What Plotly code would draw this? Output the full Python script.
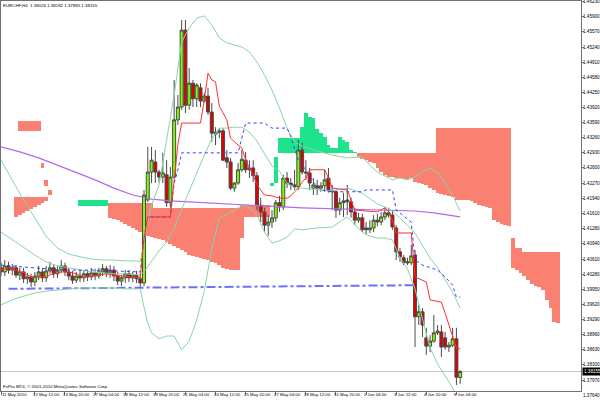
import plotly.graph_objects as go

# ---------------- data (EURCHF H4, bar 0 = 11 May 2010 00:00) ----------------
opens = [1.4042,1.4033,1.4046,1.4037,1.4042,1.4026,1.4033,1.4018,1.4022,1.4011,
         1.4024,1.4033,1.4020,1.4035,1.4042,1.4029,1.4037,1.4046,1.4033,1.4024,
         1.4015,1.4024,1.4020,1.4029,1.4022,1.4031,1.4024,1.4033,1.4040,1.4031,
         1.4037,1.4024,1.4013,1.4020,1.4029,1.4020,1.4026,1.4018,1.4009,1.4190,
         1.4251,1.4273,1.4251,1.4240,1.4245,1.4184,1.4240,1.4365,1.4393,1.4561,
         1.4397,1.4445,1.4411,1.4435,1.4406,1.4417,1.4382,1.4334,1.4338,1.4341,
         1.4282,1.4273,1.4216,1.4227,1.4256,1.4277,1.4256,1.4260,1.4243,1.4179,
         1.4164,1.4135,1.4142,1.4151,1.4184,1.4175,1.4238,1.4227,1.4223,1.4219,
         1.4299,1.4251,1.4249,1.4216,1.4221,1.4216,1.4221,1.4238,1.4210,1.4208,
         1.4168,1.4184,1.4190,1.4186,1.4164,1.4146,1.4151,1.4129,1.4125,1.4129,
         1.4146,1.4142,1.4153,1.4162,1.4157,1.4129,1.4077,1.4064,1.4055,1.4053,
         1.4070,1.3935,1.3946,1.3889,1.3871,1.3882,1.3900,1.3902,1.3889,1.3869,
         1.3873,1.3887,1.38026]
highs = [1.4055,1.4059,1.4055,1.4050,1.4048,1.4042,1.4042,1.4031,1.4029,1.4033,
         1.4046,1.4042,1.4046,1.4055,1.4050,1.4046,1.4059,1.4053,1.4042,1.4035,
         1.4033,1.4037,1.4037,1.4037,1.4042,1.4040,1.4042,1.4050,1.4046,1.4048,
         1.4046,1.4033,1.4026,1.4037,1.4037,1.4033,1.4035,1.4029,1.4212,1.4306,
         1.4306,1.4299,1.4256,1.4293,1.4277,1.4262,1.4452,1.4419,1.4583,1.4583,
         1.4478,1.4452,1.4445,1.4445,1.4424,1.4435,1.4402,1.4349,1.4347,1.4347,
         1.4299,1.4282,1.4229,1.4271,1.4299,1.4295,1.4277,1.4277,1.4251,1.4195,
         1.4173,1.4157,1.4168,1.4190,1.4199,1.4245,1.4251,1.4238,1.4256,1.4321,
         1.4315,1.4277,1.4260,1.4238,1.4234,1.4229,1.4256,1.4260,1.4223,1.4212,
         1.4195,1.4206,1.4223,1.4195,1.4173,1.4162,1.4160,1.4142,1.4146,1.4157,
         1.4160,1.4164,1.4173,1.4173,1.4168,1.4135,1.4085,1.4070,1.4064,1.4092,
         1.4081,1.3961,1.3954,1.3911,1.3895,1.3939,1.3917,1.3917,1.3902,1.3880,
         1.3911,1.3911,1.38182]
lows = [1.4024,1.4024,1.4029,1.4026,1.4020,1.4015,1.4009,1.4007,1.4000,1.4002,
        1.4015,1.4011,1.4011,1.4029,1.4020,1.4020,1.4031,1.4024,1.4015,1.4007,
        1.4009,1.4011,1.4011,1.4013,1.4015,1.4015,1.4018,1.4024,1.4022,1.4020,
        1.4013,1.4004,1.4002,1.4009,1.4011,1.4011,1.4009,1.4000,1.4002,1.4186,
        1.4227,1.4227,1.4227,1.4227,1.4175,1.4173,1.4238,1.4354,1.4387,1.4380,
        1.4387,1.4393,1.4393,1.4393,1.4402,1.4376,1.4317,1.4310,1.4325,1.4275,
        1.4260,1.4212,1.4208,1.4223,1.4251,1.4249,1.4238,1.4229,1.4168,1.4142,
        1.4120,1.4112,1.4129,1.4142,1.4164,1.4168,1.4216,1.4212,1.4212,1.4212,
        1.4245,1.4234,1.4212,1.4201,1.4201,1.4208,1.4208,1.4206,1.4168,1.4151,
        1.4157,1.4153,1.4157,1.4151,1.4135,1.4140,1.4120,1.4114,1.4118,1.4120,
        1.4133,1.4135,1.4146,1.4151,1.4125,1.4059,1.4055,1.4048,1.4048,1.4048,
        1.3869,1.3917,1.3891,1.3852,1.3858,1.3878,1.3895,1.3847,1.3863,1.3858,
        1.3869,1.3786,1.37885]
closes = [1.4033,1.4046,1.4037,1.4042,1.4026,1.4033,1.4018,1.4022,1.4011,1.4024,
          1.4033,1.4020,1.4035,1.4042,1.4029,1.4037,1.4046,1.4033,1.4024,1.4015,
          1.4024,1.4020,1.4029,1.4022,1.4031,1.4024,1.4033,1.4040,1.4031,1.4037,
          1.4024,1.4013,1.4020,1.4029,1.4020,1.4026,1.4018,1.4009,1.4201,1.4251,
          1.4277,1.4251,1.4240,1.4249,1.4184,1.4240,1.4365,1.4393,1.4561,1.4397,
          1.4445,1.4411,1.4441,1.4406,1.4417,1.4382,1.4336,1.4338,1.4341,1.4277,
          1.4273,1.4216,1.4227,1.4256,1.4279,1.4256,1.4260,1.4243,1.4179,1.4164,
          1.4135,1.4142,1.4151,1.4184,1.4175,1.4238,1.4227,1.4223,1.4219,1.4299,
          1.4251,1.4249,1.4227,1.4223,1.4216,1.4221,1.4234,1.4210,1.4208,1.4168,
          1.4184,1.4188,1.4186,1.4164,1.4146,1.4151,1.4125,1.4125,1.4129,1.4146,
          1.4142,1.4153,1.4162,1.4157,1.4131,1.4077,1.4066,1.4053,1.4053,1.4068,
          1.3935,1.3946,1.3917,1.3871,1.3882,1.3900,1.3904,1.3869,1.3869,1.3873,
          1.3887,1.3803,1.38155]
bars = list(range(len(opens)))

# Bollinger bands
bb_upper_x = [0,3,6,9,12,15,18,21,24,27,30,33,36,37,38,39,40,42,44,46,48,50,52,54,56,58,60,62,64,66,
              68,70,72,74,76,78,80,84,88,92,96,98,100,104,106,108,110,112,114,116,118,120,122]
bb_upper = [1.4277,1.4234,1.4190,1.4151,1.4111,1.4085,1.4072,1.4066,1.4061,1.4059,1.4059,1.4057,1.4057,
            1.4055,1.4103,1.4146,1.4179,1.4223,1.4321,1.4419,1.4535,1.4566,1.4587,1.4592,1.4572,1.4544,
            1.4533,1.4528,1.4524,1.4513,1.4491,1.4463,1.4430,1.4391,1.4347,1.4317,1.4308,1.4297,1.4288,
            1.4282,1.4284,1.4266,1.4251,1.4234,1.4238,1.4234,1.4240,1.4253,1.4260,1.4251,1.4227,1.4199,1.4166]
bb_mid_x = [0,3,6,9,12,15,18,21,24,27,30,33,36,37,38,40,42,44,46,48,50,52,54,56,58,60,62,64,66,68,
            70,72,74,76,78,80,84,88,92,96,100,102,104,106,108,110,112,114,116,118,120,122]
bb_mid = [1.4120,1.4103,1.4085,1.4070,1.4055,1.4046,1.4042,1.4037,1.4033,1.4031,1.4029,1.4029,1.4026,
          1.4026,1.4033,1.4057,1.4079,1.4098,1.4127,1.4170,1.4210,1.4251,1.4288,1.4323,1.4347,1.4347,
          1.4349,1.4349,1.4338,1.4319,1.4293,1.4264,1.4253,1.4227,1.4216,1.4216,1.4212,1.4210,1.4216,
          1.4205,1.4181,1.4175,1.4166,1.4151,1.4135,1.4118,1.4092,1.4063,1.4042,1.4015,1.3989,1.3954]
bb_lower_x = [0,3,6,9,12,15,18,21,24,27,30,33,36,37,38,39,40,42,44,46,48,50,52,54,56,58,60,62,64,66,
              68,70,72,74,76,78,80,84,88,92,96,98,100,102,104,106,108,110,112,114,116,118,120,122]
bb_lower = [1.3961,1.3972,1.3980,1.3987,1.3991,1.3994,1.3996,1.3998,1.3998,1.3998,1.3998,1.3996,1.3996,
            1.3996,1.3956,1.3921,1.3900,1.3887,1.3893,1.3893,1.3863,1.3882,1.3928,1.3991,1.4083,1.4151,
            1.4159,1.4168,1.4179,1.4173,1.4157,1.4120,1.4096,1.4101,1.4109,1.4127,1.4125,1.4129,1.4131,
            1.4153,1.4120,1.4111,1.4107,1.4107,1.4103,1.4063,1.4040,1.3996,1.3930,1.3867,1.3832,1.3806,
            1.3780,1.3742]

# Ichimoku: Tenkan-sen (red) and Kijun-sen (blue dotted)
tenkan_x = [0,2,4,6,8,10,12,14,16,18,20,22,24,26,28,30,32,34,36,37,38,39,45,46,47,48,53,54,55,56,57,58,
            59,60,61,62,63,64,65,66,67,68,69,70,72,74,76,77,78,79,80,81,82,86,87,88,92,93,94,100,102,103,
            104,105,109,110,113,114,117,118,120,121,122]
tenkan = [1.4037,1.4042,1.4037,1.4031,1.4022,1.4020,1.4024,1.4029,1.4033,1.4033,1.4029,1.4022,1.4024,
          1.4026,1.4029,1.4026,1.4024,1.4022,1.4020,1.4020,1.4107,1.4153,1.4153,1.4227,1.4312,1.4358,
          1.4358,1.4408,1.4467,1.4452,1.4448,1.4395,1.4380,1.4365,1.4325,1.4317,1.4310,1.4304,1.4277,
          1.4260,1.4245,1.4223,1.4212,1.4201,1.4199,1.4194,1.4194,1.4199,1.4208,1.4216,1.4229,1.4238,
          1.4256,1.4256,1.4238,1.4216,1.4212,1.4190,1.4168,1.4164,1.4173,1.4164,1.4146,1.4118,1.4118,
          1.4022,1.4011,1.3972,1.3967,1.3943,1.3891,1.3867,1.3865]
kijun_x = [0,8,16,24,30,37,38,39,45,46,47,48,63,65,70,72,76,77,79,81,83,85,88,96,97,104,105,109,110,
           112,116,118,120,121,122]
kijun = [1.4048,1.4042,1.4037,1.4037,1.4035,1.4033,1.4107,1.4153,1.4153,1.4227,1.4256,1.4293,1.4293,
         1.4358,1.4358,1.4347,1.4347,1.4328,1.4277,1.4256,1.4229,1.4212,1.4208,1.4208,1.4212,1.4212,
         1.4168,1.4142,1.4059,1.4048,1.4037,1.4022,1.4004,1.3978,1.3978]

# Long moving average (purple)
ma_x = [0,5,10,15,20,25,30,35,40,45,50,60,70,80,92,100,110,115,122]
ma = [1.4306,1.4295,1.4282,1.4266,1.4251,1.4234,1.4216,1.4201,1.4192,1.4188,1.4186,1.4181,1.4177,
      1.4173,1.4170,1.4168,1.4166,1.4162,1.4153]

# Horizontal trend line (blue dash-dot)
trend_x = [2, 110]
trend = [1.3996, 1.4004]

# Ichimoku cloud: Senkou span A / B per bar (shifted 26 bars ahead)
cloud_x = ([5,6,7,8,9,10,11,12,13] + list(range(21, 29)) + list(range(29, 64)) + list(range(64, 72))
           + list(range(72, 95)) + list(range(95, 136)) + list(range(136, 149)))
span_a = ([1.4341]*6 + [1.4260,1.4221,1.4201] + [1.4190]*8 +
          [1.4151,1.4149,1.4146,1.4142,1.4138,1.4133,1.4129,1.4125,1.4120,1.4114,1.4111,1.4109,
           1.4107,1.4105,1.4103,1.4098,1.4094,1.4090,1.4085,1.4081,1.4077,1.4070,1.4068,1.4066,
           1.4063,1.4061,1.4059,1.4055,1.4053,1.4048,1.4042,1.4040,1.4037,1.4037,1.4037] +
          [1.4107] + [1.4153]*7 +
          [1.4227,1.4284] + [1.4325]*6 +
          [1.4349,1.4380,1.4371,1.4369,1.4345,1.4336,1.4328,1.4310,1.4304,1.4304,1.4328,1.4321,1.4317,
           1.4299,1.4295] +
          [1.4284,1.4280,1.4277,1.4273,1.4271,1.4260,1.4251,1.4245,1.4240,1.4240,1.4238,1.4238,1.4236,
           1.4234,1.4238,1.4229,1.4227,1.4225,1.4223,1.4216,1.4212,
           1.4205,1.4203,1.4201,1.4199,1.4197,1.4190,1.4190,1.4190,1.4190,1.4188,1.4183,1.4179,1.4177,
           1.4175,1.4173,1.4146,1.4142,1.4138,1.4135,1.4133] +
          [1.4042,1.4037,1.4031,1.4024,1.4015,1.4007,1.4002,1.4000,1.3994,1.3972,1.3954,1.3924,1.3921])
span_b = ([1.4363]*6 + [1.4271,1.4234,1.4212] + [1.4177]*8 +
          [1.4183]*12 + [1.4173]*23 +
          [1.4179]*8 +
          [1.4221,1.4227] + [1.4293]*6 + [1.4293]*15 +
          [1.4293]*21 + [1.4347]*20 +
          [1.4107,1.4085,1.4085] + [1.4077]*10)

# second (lower) salmon patch at the far left
patch_x = [4, 5, 6, 7, 8, 9, 10, 11, 12]
patch_top = [1.4197]*9
patch_bottom = [1.4153, 1.4157, 1.4162, 1.4166, 1.4170, 1.4175, 1.4179, 1.4183, 1.4188]

x_tick_idx = [0, 9, 17, 25, 33, 41, 49, 57, 65, 73, 81, 89, 97, 105, 113, 121]
x_tick_text = ["11 May 2010", "12 May 12:00", "13 May 20:00", "17 May 04:00", "18 May 12:00",
               "19 May 20:00", "21 May 04:00", "24 May 12:00", "25 May 20:00", "27 May 04:00",
               "28 May 12:00", "31 May 20:00", "2 Jun 04:00", "3 Jun 12:00", "4 Jun 20:00", "8 Jun 04:00"]
y_tick_text = ["1.46230", "1.45900", "1.45570", "1.45240", "1.44910", "1.44580", "1.44250", "1.43920",
               "1.43590", "1.43260", "1.42930", "1.42600", "1.42270", "1.41940", "1.41610", "1.41280",
               "1.40940", "1.40610", "1.40280", "1.39950", "1.39620", "1.39290", "1.38960", "1.38630",
               "1.38300", "1.37970", "1.37640"]
last_price = 1.38155
header = "EURCHF,H4  1.38026 1.38182 1.37885 1.38155"
footer = "FxPro MT4, \u00a9 2001-2010 MetaQuotes Software Corp."

# ---------------- figure ----------------
FONT = "Liberation Sans, Arial, sans-serif"
SALMON = "#FA8072"
SPRING = "#1DE38A"
Y0, Y1 = 1.3773, 1.46245

fig = go.Figure()

cloud_base = [min(a, b) for a, b in zip(span_a, span_b)]
cloud_h = [abs(a - b) for a, b in zip(span_a, span_b)]
cloud_col = [SPRING if a > b else SALMON for a, b in zip(span_a, span_b)]
fig.add_trace(go.Bar(x=cloud_x, y=cloud_h, base=cloud_base, width=1.0,
                     marker=dict(color=cloud_col, line=dict(width=0)), hoverinfo="skip"))
fig.add_trace(go.Bar(x=patch_x, y=[t - b for t, b in zip(patch_top, patch_bottom)], base=patch_bottom,
                     width=1.0, marker=dict(color=SALMON, line=dict(width=0)), hoverinfo="skip"))

fig.add_trace(go.Scatter(x=trend_x, y=trend, mode="lines",
                         line=dict(color="#6f6fff", width=2, dash="dashdot"), hoverinfo="skip"))
fig.add_trace(go.Scatter(x=ma_x, y=ma, mode="lines", line=dict(color="#b469e6", width=1.2), hoverinfo="skip"))

fig.add_trace(go.Candlestick(x=bars, open=opens, high=highs, low=lows, close=closes,
                             increasing=dict(fillcolor="#7CFC00", line=dict(color="#4a4a4a", width=1)),
                             decreasing=dict(fillcolor="#E00000", line=dict(color="#4a4a4a", width=1)),
                             whiskerwidth=0, hoverinfo="skip"))

for xs, ys in ((bb_upper_x, bb_upper), (bb_mid_x, bb_mid), (bb_lower_x, bb_lower)):
    fig.add_trace(go.Scatter(x=xs, y=ys, mode="lines", line=dict(color="#86d6a6", width=1), hoverinfo="skip"))
fig.add_trace(go.Scatter(x=kijun_x, y=kijun, mode="lines", line=dict(color="#3c3cff", width=1, dash="dot"),
                         hoverinfo="skip"))
fig.add_trace(go.Scatter(x=tenkan_x, y=tenkan, mode="lines", line=dict(color="#ff3030", width=1), hoverinfo="skip"))

annotations = []
for i, t in zip(x_tick_idx, x_tick_text):
    annotations.append(dict(x=i, y=0, xref="x", yref="paper", text=t, showarrow=False,
                            xanchor="left", yanchor="top", xshift=(0 if i == 0 else -3), borderpad=0,
                            font=dict(family=FONT, size=4.3, color="#000")))
for t in y_tick_text:
    v = float(t)
    annotations.append(dict(x=1, y=(v - Y0) / (Y1 - Y0), xref="paper", yref="paper", text=t,
                            showarrow=False, xanchor="left", yanchor="middle", xshift=1, borderpad=0,
                            font=dict(family=FONT, size=4.6, color="#000")))
annotations.append(dict(x=1, y=(last_price - Y0) / (Y1 - Y0), xref="paper", yref="paper",
                        text="%.5f" % last_price, showarrow=False, xanchor="left", yanchor="middle",
                        xshift=1, bgcolor="#000", borderpad=1,
                        font=dict(family=FONT, size=4.6, color="#fff")))
annotations.append(dict(x=0, y=1, xref="paper", yref="paper", text=header, showarrow=False,
                        xanchor="left", yanchor="top", xshift=1, yshift=-1, borderpad=0,
                        font=dict(family=FONT, size=4.4, color="#000")))
annotations.append(dict(x=0, y=0, xref="paper", yref="paper", text=footer, showarrow=False,
                        xanchor="left", yanchor="bottom", xshift=1, yshift=1, borderpad=0,
                        font=dict(family=FONT, size=4.4, color="#000")))

fig.update_layout(
    width=600, height=404, margin=dict(l=1, r=19, t=1, b=13),
    paper_bgcolor="white", plot_bgcolor="white", showlegend=False,
    bargap=0, barmode="overlay", boxgap=0.2, boxgroupgap=0,
    annotations=annotations,
    shapes=[dict(type="line", xref="paper", x0=0, x1=1, yref="y", y0=last_price, y1=last_price,
                 line=dict(color="#c8c8c8", width=1), layer="below")],
    xaxis=dict(range=[0, 154.1], showgrid=False, zeroline=False, showline=True, linecolor="#707070",
               linewidth=1, mirror=True, tickvals=x_tick_idx, ticks="outside", ticklen=3,
               tickcolor="#707070", showticklabels=False, rangeslider=dict(visible=False)),
    yaxis=dict(side="right", range=[Y0, Y1], tickvals=[float(t) for t in y_tick_text[:-1]],
               ticks="outside", ticklen=2, tickcolor="#707070", showticklabels=False,
               showgrid=False, zeroline=False,
               showline=True, linecolor="#707070", linewidth=1, mirror=True),
)

fig.write_html("out.html", config={"displayModeBar": False, "staticPlot": True},
               post_script="document.body.style.margin='0px';document.body.style.padding='0px';")
